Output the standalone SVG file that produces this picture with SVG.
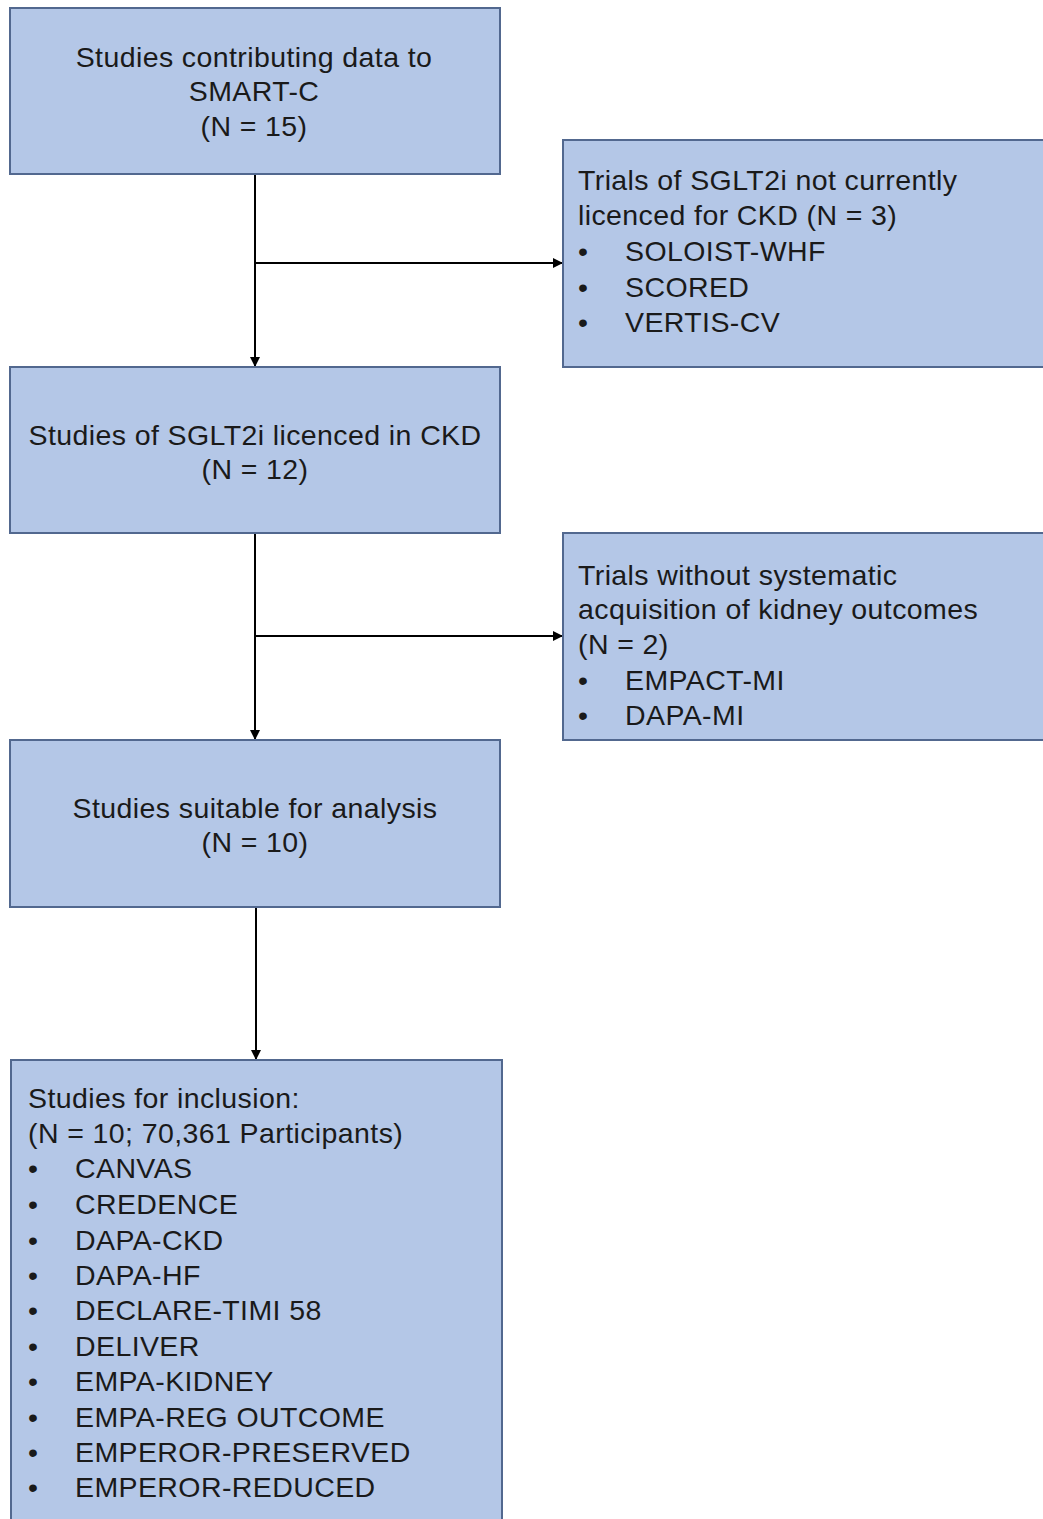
<svg xmlns="http://www.w3.org/2000/svg" width="1043" height="1519" viewBox="0 0 1043 1519">
<style>
.box{fill:#b4c7e7;stroke:#52688f;stroke-width:2}
.t{font-family:"Liberation Sans",Arial,sans-serif;font-size:28.5px;letter-spacing:0.4px;fill:#1a1a1a}
.c{text-anchor:middle}
.line{stroke:#000;stroke-width:2;fill:none}
</style>
<defs>
<marker id="ah" markerWidth="10" markerHeight="10" refX="9" refY="5" orient="auto" markerUnits="userSpaceOnUse">
<path d="M0,0 L10,5 L0,10 Z" fill="#000"/>
</marker>
</defs>
<rect width="1043" height="1519" fill="#fff"/>
<g id="connectors">
<path class="line" d="M255,174 V366" marker-end="url(#ah)"/>
<path class="line" d="M255,263 H562" marker-end="url(#ah)"/>
<path class="line" d="M255,533 V739" marker-end="url(#ah)"/>
<path class="line" d="M255,636 H562" marker-end="url(#ah)"/>
<path class="line" d="M256,907 V1059" marker-end="url(#ah)"/>
</g>
<g id="n1">
<rect class="box" x="10" y="8" width="490" height="166"/>
<text class="t c" x="254" y="67">Studies contributing data to</text>
<text class="t c" x="254" y="101">SMART-C</text>
<text class="t c" x="254" y="136">(N = 15)</text>
</g>
<g id="n2">
<rect class="box" x="563" y="140" width="490" height="227"/>
<text class="t" x="578" y="190">Trials of SGLT2i not currently</text>
<text class="t" x="578" y="225">licenced for CKD (N = 3)</text>
<text class="t" x="578" y="261">•</text><text class="t" x="625" y="261">SOLOIST-WHF</text>
<text class="t" x="578" y="297">•</text><text class="t" x="625" y="297">SCORED</text>
<text class="t" x="578" y="332">•</text><text class="t" x="625" y="332">VERTIS-CV</text>
</g>
<g id="n3">
<rect class="box" x="10" y="367" width="490" height="166"/>
<text class="t c" x="255" y="445">Studies of SGLT2i licenced in CKD</text>
<text class="t c" x="255" y="479">(N = 12)</text>
</g>
<g id="n4">
<rect class="box" x="563" y="533" width="490" height="207"/>
<text class="t" x="578" y="585">Trials without systematic</text>
<text class="t" x="578" y="619">acquisition of kidney outcomes</text>
<text class="t" x="578" y="654">(N = 2)</text>
<text class="t" x="578" y="690">•</text><text class="t" x="625" y="690">EMPACT-MI</text>
<text class="t" x="578" y="725">•</text><text class="t" x="625" y="725">DAPA-MI</text>
</g>
<g id="n5">
<rect class="box" x="10" y="740" width="490" height="167"/>
<text class="t c" x="255" y="818">Studies suitable for analysis</text>
<text class="t c" x="255" y="852">(N = 10)</text>
</g>
<g id="n6">
<rect class="box" x="11" y="1060" width="491" height="470"/>
<text class="t" x="28" y="1108">Studies for inclusion:</text>
<text class="t" x="28" y="1143">(N = 10; 70,361 Participants)</text>
<text class="t" x="28" y="1178">•</text><text class="t" x="75" y="1178">CANVAS</text>
<text class="t" x="28" y="1214">•</text><text class="t" x="75" y="1214">CREDENCE</text>
<text class="t" x="28" y="1250">•</text><text class="t" x="75" y="1250">DAPA-CKD</text>
<text class="t" x="28" y="1285">•</text><text class="t" x="75" y="1285">DAPA-HF</text>
<text class="t" x="28" y="1320">•</text><text class="t" x="75" y="1320">DECLARE-TIMI 58</text>
<text class="t" x="28" y="1356">•</text><text class="t" x="75" y="1356">DELIVER</text>
<text class="t" x="28" y="1391">•</text><text class="t" x="75" y="1391">EMPA-KIDNEY</text>
<text class="t" x="28" y="1427">•</text><text class="t" x="75" y="1427">EMPA-REG OUTCOME</text>
<text class="t" x="28" y="1462">•</text><text class="t" x="75" y="1462">EMPEROR-PRESERVED</text>
<text class="t" x="28" y="1497">•</text><text class="t" x="75" y="1497">EMPEROR-REDUCED</text>
</g>
</svg>
